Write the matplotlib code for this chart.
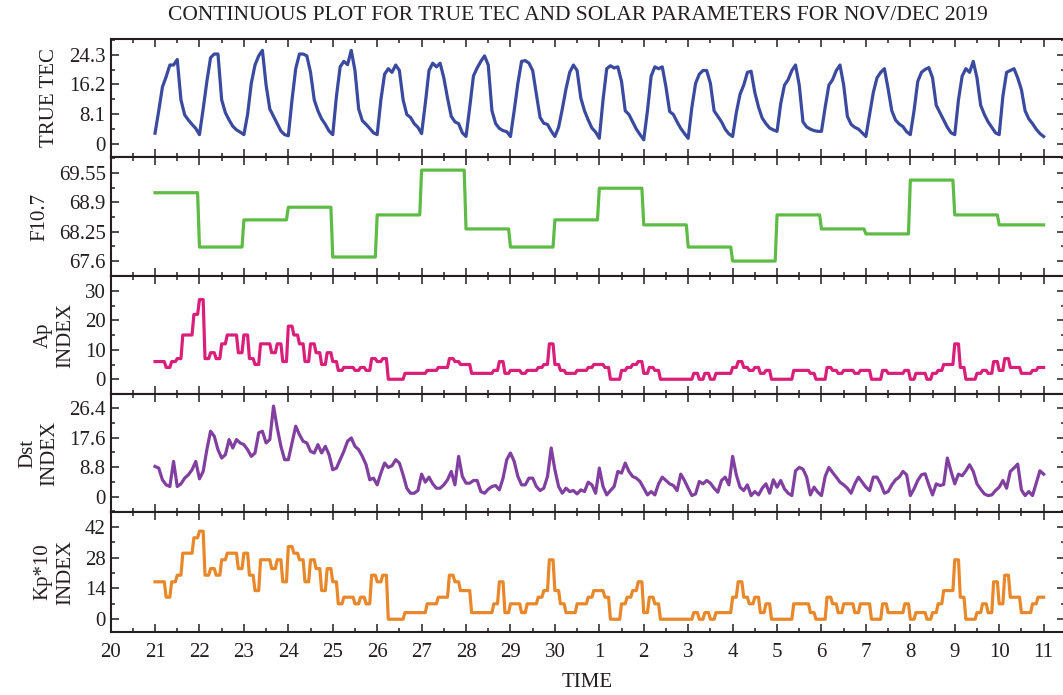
import numpy as np
import matplotlib
matplotlib.use('Agg')
import matplotlib.pyplot as plt
from matplotlib.ticker import FixedLocator, MultipleLocator

plt.rcParams['font.family'] = ['Liberation Serif', 'DejaVu Serif']

TEXT = '#231f20'

# x axis: days from Nov 20 00:00
day_labels = ['20', '21', '22', '23', '24', '25', '26', '27', '28', '29', '30',
              '1', '2', '3', '4', '5', '6', '7', '8', '9', '10', '11']

# TRUE TEC, 2-hourly, Nov 21 .. Dec 10 (12 values per day) + Dec 11 00h
tec = [
    2.9, 9, 15.5, 18.3, 21.5, 21.5, 23, 12, 7.9, 6.5, 5.3, 4.2,
    2.5, 9.5, 17, 23.5, 24.5, 24.5, 12, 8.5, 6.5, 4.8, 3.8, 3.2,
    2.5, 8, 16.5, 21.5, 24, 25.5, 16, 9.5, 7.5, 5.5, 3.5, 2.5,
    2.2, 12, 20.5, 24.5, 24.5, 24, 19.5, 12, 9, 6.8, 5.3, 3.5,
    2.5, 13, 21, 22.5, 21.6, 25.5, 20, 9.5, 6.3, 5.3, 4.2, 3,
    2.5, 12, 19, 20.5, 19.5, 21.5, 20, 12, 8, 7.2, 5.5, 4.5,
    2.8, 11, 20, 22, 21, 22, 18, 12.5, 7.5, 6, 5.5, 3,
    2, 10, 18.5, 20.7, 22.5, 24, 21.5, 9, 5.5, 4.2, 3.6, 3.3,
    2, 9, 16.5, 22.5, 22.7, 22, 20, 13.5, 7.2, 5.6, 5.3, 3.5,
    2, 4.5, 9.5, 15, 19.5, 21.5, 20, 12.5, 9, 6.5, 4.3, 3.2,
    1.5, 12, 20.5, 21.3, 20.7, 21, 17, 9, 8, 6, 4, 2.5,
    1.1, 9, 18.5, 21, 20.5, 21, 15.5, 8.8, 8, 6, 4.2, 2.8,
    1.5, 10, 16.5, 19, 20, 20, 16.5, 9, 7.5, 6, 4, 2.7,
    2, 8.5, 13.5, 16, 19.5, 19.8, 14, 10, 7, 5.5, 4.3, 3.8,
    3.4, 11, 16, 17.5, 20, 21.5, 16, 6, 4.6, 4, 3.6, 3.4,
    3.4, 10, 16, 17.5, 20, 21.5, 16, 7.5, 5.3, 4.5, 4, 3,
    2, 8, 14, 18, 19.5, 20.5, 15, 9, 6.5, 5.4, 4.7, 3.3,
    2.5, 9, 17, 19.5, 20.3, 20.8, 18, 10.5, 8.5, 6.5, 4.5, 3,
    2.5, 12, 18.5, 20.5, 19.5, 22.5, 18, 10.5, 8, 6, 4.5, 3,
    2.5, 13, 19.5, 20, 20.5, 18, 14.8, 9, 6.8, 5.5, 4, 2.8,
    2.0,
]

# F10.7, daily values Nov 21 .. Dec 10
f107 = [69.11, 67.91, 68.51, 68.79, 67.69, 68.62, 69.61, 68.31, 67.91, 68.51,
        69.21, 68.40, 67.91, 67.60, 68.62, 68.31, 68.20, 69.39, 68.62, 68.40]

# Ap index, 3-hourly (8 per day)
ap = [
    6, 6, 4, 6, 7, 15, 15, 22,
    27, 7, 9, 7, 12, 15, 15, 9,
    15, 7, 5, 12, 12, 9, 12, 6,
    18, 15, 12, 6, 12, 9, 5, 9,
    6, 3, 4, 4, 3, 4, 3, 7,
    6, 7, 0, 0, 0, 2, 2, 2,
    2, 3, 3, 4, 4, 7, 6, 5,
    5, 2, 2, 2, 2, 3, 6, 2,
    3, 3, 2, 3, 3, 4, 5, 12,
    5, 3, 2, 2, 3, 3, 4, 5,
    5, 4, 0, 0, 3, 4, 5, 6,
    2, 4, 3, 0, 0, 0, 0, 0,
    0, 2, 0, 2, 0, 2, 2, 2,
    4, 6, 4, 3, 4, 2, 3, 0,
    0, 0, 0, 3, 3, 3, 2, 0,
    0, 4, 3, 2, 3, 3, 2, 3,
    3, 0, 0, 3, 2, 2, 2, 3,
    0, 2, 2, 0, 2, 3, 5, 5,
    12, 4, 0, 0, 2, 3, 2, 6,
    3, 7, 4, 4, 2, 2, 3, 4,
]

# Dst index (magnitude), 2-hourly + Dec 11 00h
dst = [
    9, 8.5, 5, 3.5, 3, 10.5, 3, 3.8, 5.5, 6.5, 8, 10.5,
    5.3, 7.5, 14, 19.5, 18, 14, 11.5, 12.5, 17, 14.5, 17, 16,
    15.5, 14, 12, 13, 19, 19.5, 16, 17, 27, 20.5, 15, 11,
    11, 16, 21, 18.5, 16.5, 16, 13.5, 13, 15.5, 13, 15, 12.5,
    8, 8.5, 11, 13.5, 16.5, 17.5, 15, 14, 12, 9.5, 5, 5.5,
    3.5, 7, 10, 8.7, 9.2, 11, 10, 6.5, 2.5, 1, 1, 1.8,
    6.7, 4.3, 5.8, 3.8, 2.5, 2.5, 3.5, 5, 7.5, 3.5, 12, 6,
    4, 4, 4.8, 4.8, 1.5, 1, 2.2, 3, 3.3, 2, 5.5, 11,
    13, 10.5, 6, 3.5, 3.5, 5.5, 5.5, 3, 1.8, 2.5, 6, 14.5,
    8, 3, 1, 2.5, 1.5, 1.8, 0.8, 2, 1.5, 4.3, 3.5, 1,
    8.5, 3, 0.5, 1.8, 3, 7.5, 7, 10, 7.5, 6, 5.5, 4.5,
    2.5, 0.5, 1.5, 0.5, 3.8, 5.8, 4.8, 3.8, 3.3, 1.8, 6.7, 4.8,
    2.5, 0.3, 0.8, 4.5, 3.8, 4.8, 4, 2.5, 1.3, 4.8, 5.8, 3.5,
    12, 6.5, 2.8, 1.8, 3.5, 0.3, 1.5, 0.5, 2.5, 3.8, 1, 5,
    2.8, 4.8, 2.3, 1, 0.3, 7.7, 8.7, 8.2, 5.8, 0.5, 2.8, 1.3,
    0.3, 6, 8.7, 7.2, 5.8, 4.3, 3.5, 2.5, 1, 3.8, 5.8, 4.3,
    2.8, 1.8, 5.8, 5.8, 3.8, 1, 1.5, 3.5, 5, 5.8, 7.5, 6.5,
    0.3, 2.3, 4.8, 6.5, 6.8, 3.5, 0.5, 3.8, 3.3, 3.6, 11.5, 7.5,
    3.8, 6.7, 6.2, 7.7, 9.5, 7.5, 3.8, 2.2, 0.8, 0.3, 0.5, 1.8,
    2.8, 4.8, 2.5, 7.5, 8.5, 9.7, 2, 0.3, 1.5, 0.3, 4, 7.7,
    6.7,
]

# Kp*10, 3-hourly (8 per day)
kp10 = [
    17, 17, 10, 17, 20, 30, 30, 37,
    40, 20, 23, 20, 27, 30, 30, 23,
    30, 20, 13, 27, 27, 23, 27, 17,
    33, 30, 27, 17, 27, 23, 13, 23,
    17, 7, 10, 10, 7, 10, 7, 20,
    17, 20, 0, 0, 0, 3, 3, 3,
    3, 7, 7, 10, 10, 20, 17, 13,
    13, 3, 3, 3, 3, 7, 17, 3,
    7, 7, 3, 7, 7, 10, 13, 27,
    13, 7, 3, 3, 7, 7, 10, 13,
    13, 10, 0, 0, 7, 10, 13, 17,
    3, 10, 7, 0, 0, 0, 0, 0,
    0, 3, 0, 3, 0, 3, 3, 3,
    10, 17, 10, 7, 10, 3, 7, 0,
    0, 0, 0, 7, 7, 7, 3, 0,
    0, 10, 7, 3, 7, 7, 3, 7,
    7, 0, 0, 7, 3, 3, 3, 7,
    0, 3, 3, 0, 3, 7, 13, 13,
    27, 10, 0, 0, 3, 7, 3, 17,
    7, 20, 10, 10, 3, 3, 7, 10,
]

t_start = 1.0  # Nov 21 00:00


def hourly(values, hours_per_value):
    # index values are constant over their interval; the source series is hourly
    y = np.repeat(np.asarray(values, float), hours_per_value)
    y = np.append(y, y[-1])
    t = t_start + np.arange(len(y)) / 24.0
    return t, y


t_2h = t_start + np.arange(len(tec)) / 12.0
t_f, y_f = hourly(f107, 24)
t_ap, y_ap = hourly(ap, 3)
t_kp, y_kp = hourly(kp10, 3)

panels = [
    dict(t=t_2h, y=tec, color='#3a4a9f', label='TRUE TEC',
         ylim=(-3.6, 28.6), ticks=[0, 8.1, 16.2, 24.3],
         tlabels=['0', '8.1', '16.2', '24.3'], minor=4.05),
    dict(t=t_f, y=y_f, color='#5dbb46', label='F10.7',
         ylim=(67.27, 69.9), ticks=[67.6, 68.25, 68.9, 69.55],
         tlabels=['67.6', '68.25', '68.9', '69.55'], minor=0.325),
    dict(t=t_ap, y=y_ap, color='#d91f7a', label='Ap\nINDEX',
         ylim=(-5, 35), ticks=[0, 10, 20, 30],
         tlabels=['0', '10', '20', '30'], minor=5),
    dict(t=t_2h, y=dst, color='#8140a0', label='Dst\nINDEX',
         ylim=(-4.6, 30.6), ticks=[0, 8.8, 17.6, 26.4],
         tlabels=['0', '8.8', '17.6', '26.4'], minor=4.4),
    dict(t=t_kp, y=y_kp, color='#e8882a', label='Kp*10\nINDEX',
         ylim=(-5.8, 48.7), ticks=[0, 14, 28, 42],
         tlabels=['0', '14', '28', '42'], minor=7),
]

W, H = 1063, 695
fig = plt.figure(figsize=(W / 100, H / 100), dpi=100)

edges = [39, 157, 276, 394, 512, 632]
left_px, right_px = 110.6, 1064.5

for i, p in enumerate(panels):
    top, bot = edges[i], edges[i + 1]
    ax = fig.add_axes([left_px / W, 1 - bot / H, (right_px - left_px) / W, (bot - top) / H])
    ax.plot(p['t'], p['y'], color=p['color'], lw=2.3, solid_joinstyle='round')
    ax.set_xlim(0, 21.47)
    ax.set_ylim(*p['ylim'])
    ax.yaxis.set_major_locator(FixedLocator(p['ticks']))
    ax.set_yticklabels(p['tlabels'])
    ax.yaxis.set_minor_locator(MultipleLocator(p['minor']))
    ax.xaxis.set_major_locator(MultipleLocator(1))
    ax.xaxis.set_minor_locator(MultipleLocator(0.5))
    ax.tick_params(which='both', direction='in', top=True, right=True,
                   colors=TEXT, labelsize=15, width=1.1)
    ax.tick_params(which='major', length=6)
    ax.tick_params(which='minor', length=3)
    for s in ax.spines.values():
        s.set_linewidth(1.5)
        s.set_color(TEXT)
    ax.set_ylabel(p['label'], fontsize=15, color=TEXT, labelpad=7, linespacing=1.25)
    if i < len(panels) - 1:
        ax.tick_params(labelbottom=False)
    else:
        ax.set_xticks(range(len(day_labels)))
        ax.set_xticklabels(day_labels)
        ax.tick_params(axis='x', pad=8)
        ax.set_xlabel('TIME', fontsize=15, color=TEXT, labelpad=8)

fig.text(578 / W, 1 - 16 / H,
         'CONTINUOUS PLOT FOR TRUE TEC AND SOLAR PARAMETERS FOR NOV/DEC 2019',
         ha='center', va='center', fontsize=15.5, color=TEXT)

fig.savefig('out.png', dpi=100)
